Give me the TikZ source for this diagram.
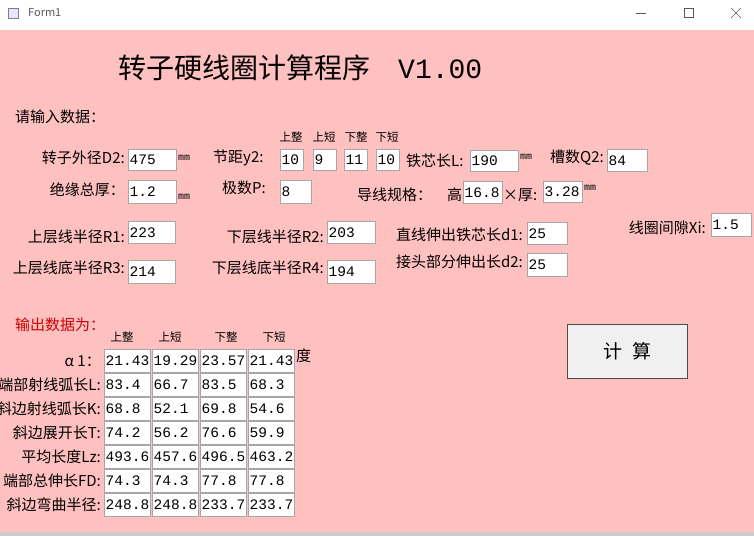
\documentclass[tikz,border=0pt]{standalone}
\usepackage{fontspec}
\newfontfamily\cjk{Noto Sans CJK SC}
\newfontfamily\mono{Liberation Mono}
\definecolor{pinkbg}{RGB}{255,192,192}
\definecolor{btn}{RGB}{240,240,240}
\newcommand\tbx[6]{%
  \node[tb, minimum width={#4-#2}, minimum height={#5-#3}, anchor=north west] (#1) at (#2,#3) {};
  \node[tbt, anchor=west] at (#1.west) {#6};}
\begin{document}
\begin{tikzpicture}[x=1pt,y=-1pt,
  tb/.style={draw=gray!70, fill=white, inner sep=0pt, line width=0.8pt},
  tbt/.style={inner sep=1.5pt, font=\mono\fontsize{14.5}{14.5}\selectfont},
  lab/.style={inner sep=0pt, font=\cjk\fontsize{15}{15}\selectfont},
  sm/.style={inner sep=0pt, font=\cjk\fontsize{11.5}{11.5}\selectfont},
  mm/.style={inner sep=0pt, font=\mono\fontsize{10}{10}\selectfont}]
\useasboundingbox (0,0) rectangle (754,536);
\fill[white] (0,0) rectangle (754,30);
\fill[pinkbg] (0,30) rectangle (754,532);
\fill[gray!40] (0,532) rectangle (754,536);
\node[draw=gray, fill=blue!10, minimum size=10, inner sep=0pt] (icon) at (13,13) {};
\node[anchor=west, inner sep=0pt, font=\cjk\fontsize{11}{11}\selectfont, text=gray!70!black] (form) at (28,13) {Form1};
\draw[gray!70!black] (636,13) -- (646,13);
\node[draw=gray!70!black, minimum size=9, inner sep=0pt] (maxb) at (689,13) {};
\draw[gray!70!black] (731,8) -- (741,18) (731,18) -- (741,8);
\node[inner sep=0pt, font=\cjk\fontsize{28}{28}\selectfont, anchor=west] (title) at (118,68) {转子硬线圈计算程序\hspace{28pt}{\mono V1.00}};
\node[lab, anchor=west] (in) at (15,117) {请输入数据：};
% row 1
\node[lab, anchor=east] (l1) at (125,158) {转子外径D2:};
\tbx{b1}{128}{149}{176}{170}{475}
\node[mm, anchor=west] (mm1) at (178,158) {mm};
\node[lab, anchor=west] (jj) at (213,158) {节距y2:};
\node[sm] (h1) at (291,137) {上整};
\node[sm] (h2) at (324,137) {上短};
\node[sm] (h3) at (356,137) {下整};
\node[sm] (h4) at (387,137) {下短};
\tbx{y1}{280}{149}{303}{170}{10}
\tbx{y2}{313}{149}{336}{170}{9}
\tbx{y3}{344}{149}{367}{170}{11}
\tbx{y4}{376}{149}{399}{170}{10}
\node[lab, anchor=west] (lL) at (406,161) {铁芯长L:};
\tbx{bL}{470}{150}{518}{171}{190}
\node[mm, anchor=west] (mm2) at (520,157) {mm};
\node[lab, anchor=west] (lQ) at (550,158) {槽数Q2:};
\tbx{bQ}{607}{149}{647}{171}{84}
% row 2
\node[lab, anchor=east] (l2) at (125,190) {绝缘总厚：};
\tbx{b2}{128}{180}{176}{203}{1.2}
\node[mm, anchor=west] (mm3) at (178,197) {mm};
\node[lab, anchor=west] (lP) at (222,188) {极数P:};
\tbx{bP}{280}{180}{311}{203}{8}
\node[lab, anchor=west] (lg) at (357,195) {导线规格：};
\node[lab, anchor=west] (lh) at (447,195) {高};
\tbx{bh}{463}{181}{502}{203}{16.8}
\node[lab, anchor=west] (lt) at (503,195) {×厚:};
\tbx{bt}{543}{181}{582}{202}{3.28}
\node[mm, anchor=west] (mm4) at (584,188) {mm};
% row 3
\node[lab, anchor=east] (l3) at (125,237) {上层线半径R1:};
\tbx{b3}{128}{221}{175}{243}{223}
\node[lab, anchor=east] (l4) at (324,237) {下层线半径R2:};
\tbx{b4}{327}{221}{375}{243}{203}
\node[lab, anchor=east] (l5) at (523,235) {直线伸出铁芯长d1:};
\tbx{b5}{527}{222}{567}{244}{25}
\node[lab, anchor=east] (l6) at (706,228) {线圈间隙Xi:};
\tbx{b6}{711}{213}{751}{236}{1.5}
% row 4
\node[lab, anchor=east] (l7) at (125,268) {上层线底半径R3:};
\tbx{b7}{128}{260}{175}{283}{214}
\node[lab, anchor=east] (l8) at (324,268) {下层线底半径R4:};
\tbx{b8}{327}{260}{375}{283}{194}
\node[lab, anchor=east] (l9) at (523,262) {接头部分伸出长d2:};
\tbx{b9}{527}{253}{567}{276}{25}
% output
\node[lab, anchor=west, text=red!80!black] (out) at (15,325) {输出数据为：};
\node[draw=gray!60!black, fill=btn, minimum width=120, minimum height=54, inner sep=0pt, anchor=north west, font=\cjk\fontsize{19}{19}\selectfont] (calc) at (567,324) {计\hspace{10pt}算};
\node[sm] (t1) at (122,337) {上整};
\node[sm] (t2) at (170,337) {上短};
\node[sm] (t3) at (226,337) {下整};
\node[sm] (t4) at (274,337) {下短};
\foreach \r/\a/\b/\c/\d [count=\i from 0] in {
  {α 1：}/21.43/19.29/23.57/21.43,
  端部射线弧长L:/83.4/66.7/83.5/68.3,
  斜边射线弧长K:/68.8/52.1/69.8/54.6,
  斜边展开长T:/74.2/56.2/76.6/59.9,
  平均长度Lz:/493.6/457.6/496.5/463.2,
  端部总伸长FD:/74.3/74.3/77.8/77.8,
  斜边弯曲半径:/248.8/248.8/233.7/233.7}{
  \pgfmathsetmacro\yy{349+24*\i}
  \node[lab, anchor=east] (r\i) at (101,\yy+12) {\r};
  \tbx{c\i a}{104}{\yy}{150}{\yy+23}{\a}
  \tbx{c\i b}{152}{\yy}{198}{\yy+23}{\b}
  \tbx{c\i c}{200}{\yy}{246}{\yy+23}{\c}
  \tbx{c\i d}{248}{\yy}{294}{\yy+23}{\d}
}
\node[lab, anchor=west] (deg) at (296,356) {度};
\end{tikzpicture}
\end{document}
